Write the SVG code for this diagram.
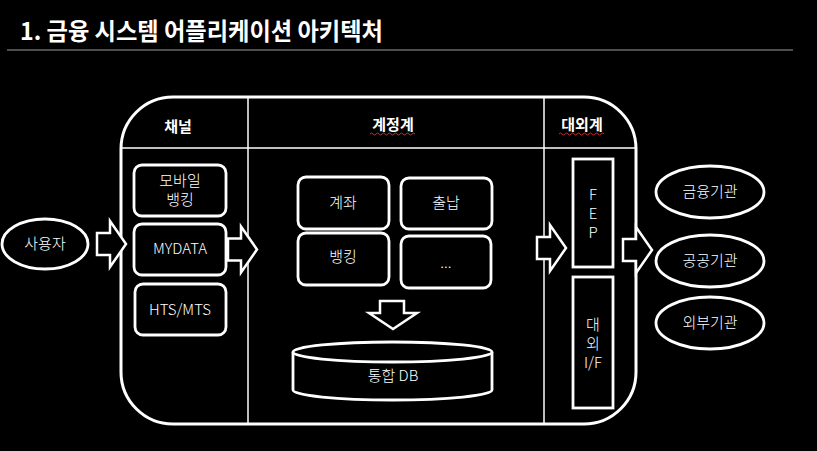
<svg xmlns="http://www.w3.org/2000/svg" width="817" height="451" viewBox="0 0 817 451">
<defs>
<style>
.t{font-family:"Noto Sans CJK KR","Malgun Gothic","Noto Sans",sans-serif;fill:#fff;font-size:15px;text-anchor:middle;font-weight:300}
.h{font-weight:bold}
.box{fill:#000;stroke:#fff;stroke-width:2.8}
.div{stroke:#fff;stroke-width:1.5;fill:none}
.arr{fill:#000;stroke:#fff;stroke-width:2.5;stroke-linejoin:miter}
.sq{fill:none;stroke:#c03030;stroke-width:1}
</style>
<path id="rarrow" d="M0,-11 H13 V-23 L29,0 L13,23 V11 H0 Z"/>
</defs>
<rect width="817" height="451" fill="#000"/>
<g id="title">
<text x="20" y="40" class="t h" style="font-size:24px;text-anchor:start" textLength="363" lengthAdjust="spacingAndGlyphs">1. 금융 시스템 어플리케이션 아키텍처</text>
<line x1="7" y1="50" x2="793" y2="50" stroke="#9a9a9a" stroke-width="1.2"/>
</g>
<g id="container">
<rect x="121" y="97" width="515" height="327" rx="52" ry="52" fill="#000" stroke="#fff" stroke-width="3"/>
<line class="div" x1="121" y1="148" x2="636" y2="148"/>
<line class="div" x1="248" y1="97" x2="248" y2="424"/>
<line class="div" x1="544" y1="97" x2="544" y2="424"/>
<text x="178" y="132" class="t h">채널</text>
<text x="393" y="130" class="t h">계정계</text>
<path class="sq" d="M370,134 q1.5,-2 3,0 t3,0 t3,0 t3,0 t3,0 t3,0 t3,0 t3,0 t3,0 t3,0 t3,0 t3,0 t3,0 t3,0 t3,0"/>
<text x="582" y="130" class="t h">대외계</text>
<path class="sq" d="M559,134 q1.5,-2 3,0 t3,0 t3,0 t3,0 t3,0 t3,0 t3,0 t3,0 t3,0 t3,0 t3,0 t3,0 t3,0 t3,0 t3,0"/>
</g>
<g id="user">
<ellipse cx="45" cy="244" rx="43" ry="25" class="box" stroke-width="2.5"/>
<text x="45" y="249" class="t">사용자</text>
</g>
<g id="mobile-banking">
<rect x="134" y="165" width="92" height="51" rx="8" class="box"/>
<text x="180" y="186" class="t">모바일</text>
<text x="180" y="205" class="t">뱅킹</text>
</g>
<g id="mydata">
<rect x="134" y="224" width="92" height="51" rx="8" class="box"/>
<text x="180" y="254" class="t">MYDATA</text>
</g>
<g id="hts-mts">
<rect x="135" y="284" width="91" height="51" rx="8" class="box"/>
<text x="180" y="315" class="t">HTS/MTS</text>
</g>
<g id="account">
<rect x="298" y="177" width="91" height="52" rx="8" class="box"/>
<text x="343" y="208" class="t">계좌</text>
</g>
<g id="cash">
<rect x="401" y="178" width="91" height="51" rx="8" class="box"/>
<text x="446" y="208" class="t">출납</text>
</g>
<g id="banking">
<rect x="298" y="233" width="91" height="52" rx="8" class="box"/>
<text x="343" y="262" class="t">뱅킹</text>
</g>
<g id="etc">
<rect x="401" y="236" width="90" height="52" rx="8" class="box"/>
<text x="446" y="268" class="t">...</text>
</g>
<g id="integrated-db">
<path d="M293,352 V390 A99.5,10 0 0 0 492,390 V352" class="box"/>
<ellipse cx="392.5" cy="352" rx="99.5" ry="10" class="box"/>
<text x="393" y="381" class="t">통합 DB</text>
</g>
<g id="fep">
<rect x="573" y="159" width="40" height="108" class="box"/>
<text x="593" y="200" class="t">F</text>
<text x="593" y="219" class="t">E</text>
<text x="593" y="238" class="t">P</text>
</g>
<g id="external-if">
<rect x="573" y="277" width="40" height="131" class="box"/>
<text x="593" y="330" class="t">대</text>
<text x="593" y="349" class="t">외</text>
<text x="593" y="368" class="t">I/F</text>
</g>
<g id="financial-inst">
<ellipse cx="710" cy="192" rx="54" ry="26" class="box" stroke-width="2.5"/>
<text x="710" y="197" class="t">금융기관</text>
</g>
<g id="public-inst">
<ellipse cx="710" cy="261" rx="54" ry="26" class="box" stroke-width="2.5"/>
<text x="710" y="266" class="t">공공기관</text>
</g>
<g id="external-inst">
<ellipse cx="710" cy="323" rx="54" ry="26" class="box" stroke-width="2.5"/>
<text x="710" y="328" class="t">외부기관</text>
</g>
<g id="connectors">
<use href="#rarrow" class="arr" transform="translate(97,244)"/>
<use href="#rarrow" class="arr" transform="translate(228,249.5)"/>
<use href="#rarrow" class="arr" transform="translate(537,248)"/>
<use href="#rarrow" class="arr" transform="translate(623,250)"/>
<path class="arr" d="M380,301 H404 V313 H417 L393,329 L369,313 H380 Z"/>
</g>
</svg>
